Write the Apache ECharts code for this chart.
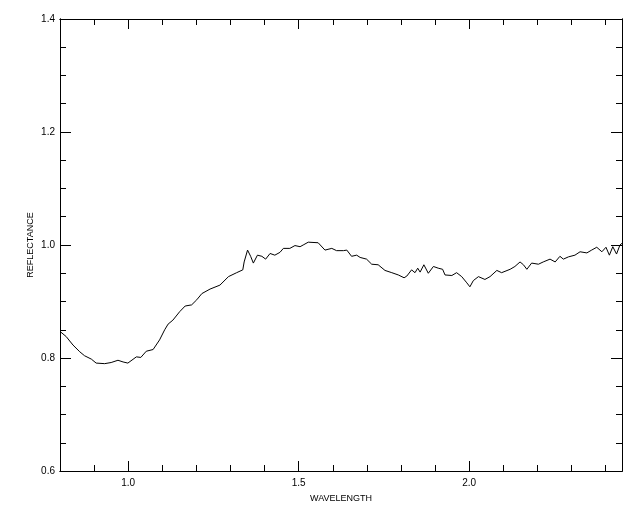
<!DOCTYPE html>
<html>
<head>
<meta charset="utf-8">
<script src="https://cdn.jsdelivr.net/npm/echarts@6/dist/echarts.min.js"></script>
<style>
html,body{margin:0;padding:0;background:#fff;}
#chart{width:640px;height:512px;}
</style>
</head>
<body>
<div id="chart"></div>
<script>
// Data
const wavelength = [0.800,0.818,0.838,0.858,0.872,0.892,0.906,0.931,0.950,0.970,0.985,0.999,1.024,1.037,1.053,1.073,1.092,1.107,1.117,1.131,1.151,1.167,1.186,1.201,1.216,1.240,1.269,1.294,1.318,1.336,1.340,1.350,1.359,1.367,1.379,1.392,1.403,1.416,1.430,1.445,1.455,1.474,1.489,1.504,1.513,1.528,1.557,1.577,1.597,1.611,1.631,1.641,1.655,1.670,1.680,1.699,1.714,1.733,1.753,1.773,1.792,1.809,1.817,1.831,1.841,1.849,1.856,1.867,1.880,1.895,1.909,1.922,1.929,1.949,1.963,1.978,1.993,2.002,2.012,2.027,2.046,2.061,2.081,2.095,2.120,2.134,2.149,2.159,2.169,2.183,2.203,2.217,2.237,2.252,2.266,2.276,2.291,2.310,2.325,2.345,2.359,2.374,2.389,2.401,2.411,2.421,2.432,2.442,2.448];
const reflectance = [0.847,0.838,0.823,0.811,0.804,0.798,0.791,0.790,0.792,0.796,0.793,0.791,0.802,0.801,0.812,0.815,0.832,0.850,0.860,0.867,0.882,0.892,0.894,0.903,0.914,0.922,0.929,0.944,0.951,0.956,0.970,0.991,0.980,0.968,0.982,0.980,0.975,0.985,0.982,0.987,0.994,0.994,0.999,0.997,1.000,1.005,1.004,0.991,0.994,0.990,0.990,0.991,0.980,0.982,0.978,0.975,0.966,0.965,0.955,0.951,0.947,0.942,0.945,0.956,0.951,0.959,0.952,0.965,0.950,0.962,0.959,0.957,0.947,0.946,0.951,0.944,0.933,0.926,0.937,0.944,0.939,0.944,0.955,0.951,0.957,0.962,0.970,0.965,0.957,0.968,0.966,0.970,0.975,0.970,0.980,0.975,0.979,0.982,0.988,0.986,0.991,0.996,0.988,0.996,0.982,0.997,0.984,1.000,1.003];
const xMajorTicks = [1.0, 1.5, 2.0];
const xMinorTicks = [0.9, 1.0, 1.1, 1.2, 1.3, 1.4, 1.5, 1.6, 1.7, 1.8, 1.9, 2.0, 2.1, 2.2, 2.3, 2.4];
const xTitle = 'WAVELENGTH';
const yTitle = 'REFLECTANCE';

const X_MIN = 0.8, X_MAX = 2.448, Y_MIN = 0.6, Y_MAX = 1.4;
const FONT = 'Liberation Sans, Arial, sans-serif';
const lineStyle = {color:'#000', width:1};

function xAx(pos, ticks, len, withLabel) {
  const a = {
    type:'value', position:pos, min:X_MIN, max:X_MAX,
    axisLine:{show:true, lineStyle:lineStyle},
    axisTick:{show:true, inside:true, length:len, lineStyle:lineStyle, customValues:ticks},
    axisLabel:{show:withLabel, customValues:xMajorTicks, color:'#000', fontFamily:FONT, fontSize:10, margin:7,
      formatter:v=>v.toFixed(1)},
    splitLine:{show:false}
  };
  if (withLabel) {
    a.name = xTitle; a.nameLocation='middle'; a.nameGap=23; a.nameMoveOverlap=false;
    a.nameTextStyle = {color:'#000', fontFamily:FONT, fontSize:9};
  }
  return a;
}
function yAx(pos, interval, len, withLabel) {
  const a = {
    type:'value', position:pos, min:Y_MIN, max:Y_MAX, interval:interval,
    axisLine:{show:true, lineStyle:lineStyle},
    axisTick:{show:true, inside:true, length:len, lineStyle:lineStyle},
    axisLabel:{show:withLabel, color:'#000', fontFamily:FONT, fontSize:10, margin:5,
      formatter:v=>v.toFixed(1)},
    splitLine:{show:false}
  };
  if (withLabel) {
    a.name = yTitle; a.nameLocation='middle'; a.nameGap=25; a.nameMoveOverlap=false;
    a.nameTextStyle = {color:'#000', fontFamily:FONT, fontSize:9};
  }
  return a;
}

const chart = echarts.init(document.getElementById('chart'), null, {renderer:'canvas'});
chart.setOption({
  animation:false,
  backgroundColor:'#fff',
  grid:{left:60, right:18, top:19, bottom:41, containLabel:false},
  xAxis:[
    xAx('bottom', xMajorTicks, 10, true),
    xAx('bottom', xMinorTicks, 6, false),
    xAx('top', xMajorTicks, 10, false),
    xAx('top', xMinorTicks, 6, false)
  ],
  yAxis:[
    yAx('left', 0.2, 11, true),
    yAx('left', 0.05, 6, false),
    yAx('right', 0.2, 11, false),
    yAx('right', 0.05, 6, false)
  ],
  series:[{
    type:'line', xAxisIndex:0, yAxisIndex:0,
    data: wavelength.map((w,i)=>[w, reflectance[i]]),
    showSymbol:false, symbol:'none', smooth:false,
    lineStyle:{color:'#000', width:1},
    clip:true
  }]
});
</script>
</body>
</html>
